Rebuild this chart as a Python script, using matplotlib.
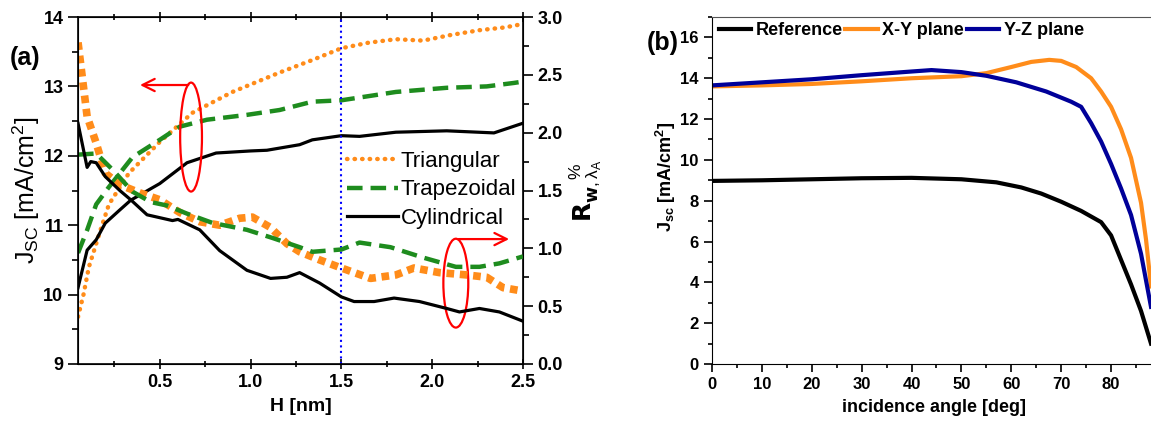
import numpy as np
import matplotlib
matplotlib.use("Agg")
import matplotlib.pyplot as plt
from matplotlib.patches import Ellipse
from matplotlib.ticker import MultipleLocator

plt.rcParams['font.family'] = ['Liberation Sans', 'DejaVu Sans']
plt.rcParams['mathtext.default'] = 'regular'

# ---- panel (a): Jsc (left axis) and R (right axis) vs H
h_tri_j = [0.05, 0.08, 0.11, 0.17, 0.22, 0.33, 0.5, 0.68, 0.9, 1.16, 1.34, 1.5, 1.65, 1.8, 1.95, 2.1, 2.26, 2.4, 2.5]
j_tri = [9.68, 10.0, 10.4, 10.9, 11.3, 11.75, 12.2, 12.62, 12.92, 13.2, 13.38, 13.55, 13.63, 13.68, 13.66, 13.74, 13.81, 13.85, 13.9]

h_trap_j = [0.05, 0.1, 0.15, 0.22, 0.35, 0.5, 0.61, 0.76, 0.98, 1.16, 1.34, 1.5, 1.65, 1.8, 2.08, 2.3, 2.45, 2.5]
j_trap = [10.6, 10.93, 11.3, 11.55, 11.98, 12.23, 12.42, 12.52, 12.59, 12.66, 12.78, 12.8, 12.86, 12.92, 12.98, 13.0, 13.05, 13.07]

h_cyl_j = [0.05, 0.1, 0.15, 0.2, 0.28, 0.34, 0.5, 0.65, 0.81, 1.0, 1.09, 1.27, 1.34, 1.5, 1.6, 1.8, 2.08, 2.34, 2.42, 2.5]
j_cyl = [10.1, 10.64, 10.79, 11.03, 11.22, 11.36, 11.6, 11.9, 12.04, 12.07, 12.08, 12.16, 12.23, 12.29, 12.28, 12.34, 12.36, 12.33, 12.4, 12.47]

h_tri_r = [0.05, 0.1, 0.15, 0.2, 0.28, 0.39, 0.5, 0.61, 0.72, 0.83, 0.94, 1.01, 1.11, 1.2, 1.27, 1.38, 1.5, 1.66, 1.8, 1.9, 2.04, 2.19, 2.3, 2.39, 2.5]
r_tri = [2.78, 2.14, 1.91, 1.65, 1.55, 1.48, 1.42, 1.31, 1.23, 1.2, 1.26, 1.27, 1.18, 1.04, 0.97, 0.9, 0.83, 0.74, 0.77, 0.83, 0.79, 0.77, 0.75, 0.66, 0.63]

h_trap_r = [0.05, 0.15, 0.24, 0.35, 0.45, 0.54, 0.65, 0.79, 0.98, 1.12, 1.27, 1.34, 1.5, 1.6, 1.77, 1.95, 2.13, 2.26, 2.37, 2.5]
r_trap = [1.81, 1.82, 1.68, 1.49, 1.40, 1.37, 1.30, 1.22, 1.16, 1.09, 1.01, 0.97, 0.99, 1.05, 1.01, 0.92, 0.84, 0.84, 0.87, 0.93]

h_cyl_r = [0.05, 0.1, 0.12, 0.15, 0.2, 0.28, 0.34, 0.43, 0.57, 0.6, 0.72, 0.83, 0.98, 1.11, 1.2, 1.27, 1.38, 1.5, 1.57, 1.68, 1.79, 1.93, 2.08, 2.15, 2.26, 2.37, 2.5]
r_cyl = [2.08, 1.70, 1.75, 1.74, 1.62, 1.5, 1.42, 1.29, 1.24, 1.25, 1.16, 0.98, 0.81, 0.74, 0.75, 0.79, 0.70, 0.58, 0.54, 0.54, 0.57, 0.54, 0.48, 0.45, 0.48, 0.45, 0.37]

h_mark = 1.5

# ---- panel (b): Jsc vs incidence angle
ang_ref = [0, 10, 20, 30, 40, 50, 57, 62, 66, 70, 74, 78, 80, 82, 84, 86, 88]
j_ref = [8.97, 9.0, 9.05, 9.1, 9.12, 9.05, 8.9, 8.65, 8.35, 7.95, 7.5, 6.95, 6.3, 5.1, 3.9, 2.6, 1.0]

ang_xy = [0, 10, 20, 30, 40, 50, 55, 60, 64, 67.6, 70, 73, 76, 78, 80, 82, 84, 86, 87, 88]
j_xy = [13.6, 13.65, 13.72, 13.85, 14.0, 14.1, 14.25, 14.55, 14.8, 14.9, 14.85, 14.55, 14.0, 13.35, 12.6, 11.5, 10.1, 7.9, 6.1, 3.8]

ang_yz = [0, 10, 20, 30, 40, 44, 50, 55, 61, 67, 72, 74, 76, 78, 80, 82, 84, 86, 88]
j_yz = [13.65, 13.8, 13.95, 14.15, 14.33, 14.4, 14.3, 14.12, 13.8, 13.35, 12.85, 12.6, 11.8, 10.9, 9.8, 8.6, 7.3, 5.4, 2.8]

orange = '#ff8c1a'
green = '#1e8c1e'
navy = '#000099'

fig = plt.figure(figsize=(11.51, 4.21), dpi=100)
ax = fig.add_axes([0.0678, 0.1354, 0.3866, 0.8242])
ax2 = ax.twinx()

l1, = ax.plot(h_tri_j, j_tri, color=orange, lw=3.2, linestyle=(0, (0.1, 1.6)), dash_capstyle='round', label='Triangular')
l2, = ax.plot(h_trap_j, j_trap, color=green, lw=3.2, linestyle=(0, (3.5, 1.8)), label='Trapezoidal')
l3, = ax.plot(h_cyl_j, j_cyl, color='black', lw=2.3, label='Cylindrical')

ax2.plot(h_tri_r, r_tri, color=orange, lw=5.5, linestyle=(0, (1, 0.75)))
ax2.plot(h_trap_r, r_trap, color=green, lw=3.2, linestyle=(0, (3.5, 1.8)))
ax2.plot(h_cyl_r, r_cyl, color='black', lw=2.3)
ax.axvline(h_mark, color='#0000ff', lw=1.5, linestyle=':')

ax.set_xlim(0.05, 2.5)
ax.set_ylim(9, 14)
ax2.set_ylim(0, 3)
ax.xaxis.set_major_locator(MultipleLocator(0.5))
ax.xaxis.set_minor_locator(MultipleLocator(0.25))
ax.yaxis.set_major_locator(MultipleLocator(1))
ax.yaxis.set_minor_locator(MultipleLocator(0.5))
ax2.yaxis.set_major_locator(MultipleLocator(0.5))
ax2.yaxis.set_minor_locator(MultipleLocator(0.25))
ax.tick_params(axis='both', which='both', direction='out', labelsize=13, width=1.2)
ax.tick_params(which='major', length=7)
ax.tick_params(which='minor', length=4)
ax.tick_params(axis='x', which='both', top=True, labeltop=False)
ax.tick_params(axis='x', which='both', direction='inout')
ax2.tick_params(which='both', direction='out', labelsize=13, width=1.2)
ax2.tick_params(which='major', length=7)
ax2.tick_params(which='minor', length=4)
for s in ax.spines.values():
    s.set_linewidth(1.2)
for lab in ax.get_xticklabels() + ax.get_yticklabels() + ax2.get_yticklabels():
    lab.set_fontweight('bold')

ax.set_xlabel('H [nm]', fontsize=14, fontweight='bold')
ax.xaxis.set_label_coords(0.5, -0.097)
ax.set_ylabel(r'J$_{SC}$ [mA/cm$^2$]', fontsize=18)
ax.yaxis.set_label_coords(-0.082, 0.5)
ax2.set_ylabel(r'$\mathbf{R}_{\mathbf{w},\lambda_A}^{\ \ \ \ \%}$', fontsize=18, rotation=90)
ax2.yaxis.set_label_coords(1.10, 0.5)

ax.legend(handles=[l1, l2, l3], loc='upper left', bbox_to_anchor=(0.605, 0.615),
          frameon=False, fontsize=16, handlelength=2.3, handletextpad=0.1,
          labelspacing=0.35, borderpad=0, borderaxespad=0)

# red ellipses + arrows
ax.add_patch(Ellipse((0.254, 0.654), 0.049, 0.314, transform=ax.transAxes,
                     fill=False, edgecolor='red', lw=1.6, zorder=5))
ax.annotate('', xy=(0.133, 0.804), xytext=(0.254, 0.804), xycoords='axes fraction',
            arrowprops=dict(arrowstyle='->', color='red', lw=1.6, mutation_scale=22))
ax.add_patch(Ellipse((0.849, 0.233), 0.056, 0.256, transform=ax.transAxes,
                     fill=False, edgecolor='red', lw=1.6, zorder=5))
ax.annotate('', xy=(0.975, 0.36), xytext=(0.849, 0.36), xycoords='axes fraction',
            arrowprops=dict(arrowstyle='->', color='red', lw=1.6, mutation_scale=22))

fig.text(0.0217, 0.862, '(a)', fontsize=18, fontweight='bold', ha='center', va='center')

# ---- panel (b)
bx = fig.add_axes([0.6186, 0.1354, 0.3814, 0.8242])
bx.plot(ang_ref, j_ref, color='black', lw=3, label='Reference')
bx.plot(ang_xy, j_xy, color=orange, lw=3, label='X-Y plane')
bx.plot(ang_yz, j_yz, color=navy, lw=3, label='Y-Z plane')
bx.set_xlim(0, 88)
bx.set_ylim(0, 17)
bx.xaxis.set_major_locator(MultipleLocator(10))
bx.xaxis.set_minor_locator(MultipleLocator(5))
bx.yaxis.set_major_locator(MultipleLocator(2))
bx.yaxis.set_minor_locator(MultipleLocator(1))
bx.spines['right'].set_visible(False)
bx.spines['top'].set_color('#555555')
bx.tick_params(which='both', direction='out', labelsize=12, width=1.2)
bx.tick_params(which='major', length=6)
bx.tick_params(which='minor', length=3)
for lab in bx.get_xticklabels() + bx.get_yticklabels():
    lab.set_fontweight('bold')
bx.set_xlabel('incidence angle [deg]', fontsize=13, fontweight='bold')
bx.xaxis.set_label_coords(0.506, -0.1)
bx.set_ylabel(r'J$_{sc}$ [mA/cm$^2$]', fontsize=13, fontweight='bold')
bx.yaxis.set_label_coords(-0.077, 0.54)
bx.legend(loc='upper left', bbox_to_anchor=(0.015, 0.985), ncol=3, frameon=False,
          prop={'size': 13, 'weight': 'bold'}, handlelength=1.8, handletextpad=0.25,
          columnspacing=0.15, borderpad=0, borderaxespad=0)
fig.text(0.576, 0.898, '(b)', fontsize=18, fontweight='bold', ha='center', va='center')

fig.savefig('out.png', dpi=100)
